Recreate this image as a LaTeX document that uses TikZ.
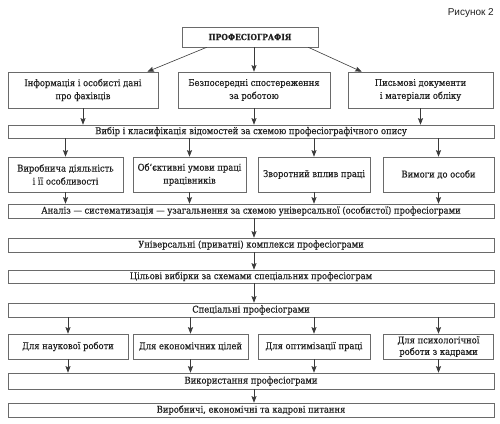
\documentclass[tikz,border=0pt]{standalone}
\usepackage{fontspec}
\setmainfont{DejaVu Serif Condensed}[FakeBold=0.35]
\newfontfamily\capfont{Liberation Sans}
\usetikzlibrary{arrows.meta,calc}
\definecolor{bordgray}{HTML}{6A6A6A}
\definecolor{arrgray}{HTML}{3A3A3A}
\definecolor{txtgray}{HTML}{202020}
\begin{document}
\begin{tikzpicture}[x=1pt,y=-1pt,
  box/.style={draw=bordgray,line width=0.6pt,fill=white,inner sep=1pt,align=center,
    text=txtgray,font=\fontsize{9.3}{13}\selectfont},
  arr/.style={draw=arrgray,line width=0.6pt,-{Stealth[length=6.5pt,width=5pt,inset=1pt]}},
]
\useasboundingbox (0,0) rectangle (500,423);
\node[text=txtgray,font=\capfont\fontsize{10}{11}\selectfont,anchor=east,inner sep=0pt] (cap) at (494,13) {Рисунок 2};
% title
\node[box,minimum width=136pt,minimum height=20pt,font=\bfseries\fontsize{8.4}{9}\selectfont] (t) at (250,37) {ПРОФЕСІОГРАФІЯ};
% row 2
\node[box,minimum width=150pt,minimum height=36pt] (a1) at (83,90) {Інформація і особисті дані\\про фахівців};
\node[box,minimum width=152pt,minimum height=36pt] (a2) at (254,90) {Безпосередні спостереження\\за роботою};
\node[box,minimum width=145pt,minimum height=36pt] (a3) at (420.5,90) {Письмові документи\\і матеріали обліку};
% vybir
\node[box,minimum width=486pt,minimum height=13pt] (v) at (251,131.5) {Вибір і класифікація відомостей за схемою професіографічного опису};
% row 4
\node[box,minimum width=115pt,minimum height=35pt] (b1) at (65.5,174.5) {Виробнича діяльність\\і її особливості};
\node[box,minimum width=113pt,minimum height=35pt] (b2) at (189.5,174.5) {Об'єктивні умови праці\\працівників};
\node[box,minimum width=112pt,minimum height=35pt] (b3) at (314,174.5) {Зворотний вплив праці};
\node[box,minimum width=111pt,minimum height=35pt] (b4) at (438.5,174.5) {Вимоги до особи};
% analiz
\node[box,minimum width=486pt,minimum height=14pt] (an) at (251,211) {Аналіз — систематизація — узагальнення за схемою універсальної (особистої) професіограми};
\node[box,minimum width=486pt,minimum height=14pt] (un) at (251,245) {Універсальні (приватні) комплекси професіограми};
\node[box,minimum width=486pt,minimum height=13pt] (ci) at (251,276.5) {Цільові вибірки за схемами спеціальних професіограм};
\node[box,minimum width=486pt,minimum height=14pt] (sp) at (251,310) {Спеціальні професіограми};
% row 6
\node[box,minimum width=120pt,minimum height=25pt] (c1) at (68,346.5) {Для наукової роботи};
\node[box,minimum width=115pt,minimum height=25pt] (c2) at (190.5,346.5) {Для економічних цілей};
\node[box,minimum width=112pt,minimum height=25pt] (c3) at (314,346.5) {Для оптимізації праці};
\node[box,minimum width=110pt,minimum height=25pt,font=\fontsize{9.3}{11.5}\selectfont] (c4) at (438.5,346.5) {Для психологічної\\роботи з кадрами};
\node[box,minimum width=486pt,minimum height=16pt] (vk) at (251,381) {Використання професіограми};
\node[box,minimum width=486pt,minimum height=14pt] (vr) at (251,410) {Виробничі, економічні та кадрові питання};
% arrows
\coordinate (tl) at ($(t.south west)+(25,0)$);
\coordinate (tr) at ($(t.south east)+(-10,0)$);
\coordinate (a1t) at ($(a1.north east)+(-11,0)$);
\coordinate (a3t) at ($(a3.north west)+(14,0)$);
\draw[arr] (tl) -- (a1t);
\draw[arr] (t.south -| a2.north) -- (a2.north);
\draw[arr] (tr) -- (a3t);
\foreach \n in {a1,a2,a3} \draw[arr] (\n.south) -- (v.north -| \n.south);
\foreach \n in {b1,b2,b3,b4} {
  \draw[arr] (v.south -| \n.north) -- (\n.north);
  \draw[arr] (\n.south) -- (an.north -| \n.south);
}
\draw[arr] (an.south -| a2.south) -- (un.north -| a2.south);
\draw[arr] (un.south -| a2.south) -- (ci.north -| a2.south);
\draw[arr] (ci.south -| a2.south) -- (sp.north -| a2.south);
\foreach \n in {c1,c2,c3,c4} {
  \draw[arr] (sp.south -| \n.north) -- (\n.north);
  \draw[arr] (\n.south) -- (vk.north -| \n.south);
}
\draw[arr] (vk.south -| a2.south) -- (vr.north -| a2.south);
\end{tikzpicture}
\end{document}
